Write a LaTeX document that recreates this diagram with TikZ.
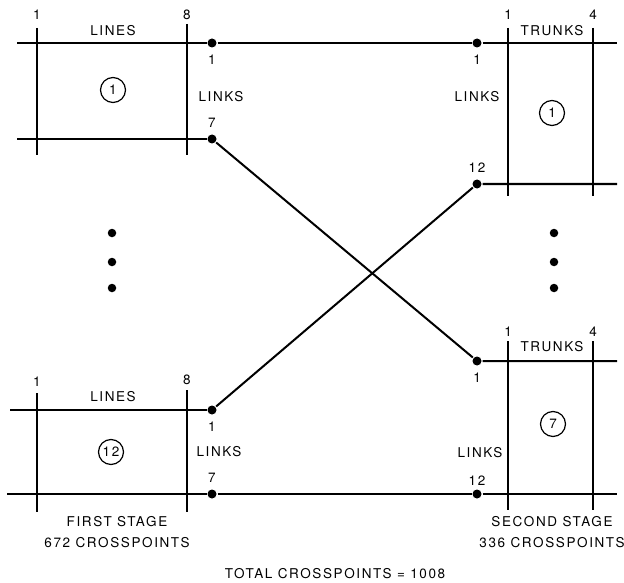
\documentclass[tikz,border=0pt]{standalone}
\usepackage{fontspec}
\setmainfont{TeX Gyre Heros}[LetterSpace=12]

\begin{document}
\begin{tikzpicture}[x=1pt,y=-1pt,line width=2pt,
  every node/.style={font=\fontsize{13.5}{21}\selectfont},
  junction/.style={circle,fill,inner sep=0pt,minimum size=9pt},
  swno/.style={circle,draw,line width=1.2pt,inner sep=0pt,minimum size=25pt},
  vdot/.style={circle,fill,inner sep=0pt,minimum size=8.5pt}]
  \useasboundingbox (0,0) rectangle (624,583);
  % link terminals
  \node[junction] (a1) at (212,43) {};
  \node[junction] (a7) at (212,139) {};
  \node[junction] (b1) at (477,43) {};
  \node[junction] (b12) at (477,184) {};
  \node[junction] (c1) at (212,410) {};
  \node[junction] (c7) at (212,494) {};
  \node[junction] (d1) at (477,361) {};
  \node[junction] (d12) at (477,494) {};
  \coordinate (a1in) at (17,43);
  \coordinate (a7in) at (17,139);
  \coordinate (c1in) at (10,410);
  \coordinate (c7in) at (7,494);
  \coordinate (b1out) at (617,43);
  \coordinate (b12out) at (617,184);
  \coordinate (d1out) at (617,361);
  \coordinate (d12out) at (617,494);
  % horizontals and links
  \draw (a1in) -- (a1) -- (b1) -- (b1out);
  \draw (a7in) -- (a7);
  \draw (a7) -- (d1) -- (d1out);
  \draw (c1in) -- (c1);
  \draw (c1) -- (b12) -- (b12out);
  \draw (c7in) -- (c7) -- (d12) -- (d12out);
  % verticals
  \draw (37,28) -- (37,155);
  \draw (187,24) -- (187,155);
  \draw (508,28) -- (508,196);
  \draw (593,28) -- (593,196);
  \draw (37,393) -- (37,512);
  \draw (187,390) -- (187,512);
  \draw (508,341) -- (508,510);
  \draw (593,341) -- (593,510);
  % first stage, switch 1
  \node (tl1) at (37,15) {1};
  \node (tl8) at (187,15) {8};
  \node (tlines) at (113,31) {LINES};
  \node[swno] (sw1) at (113,90) {1};
  \node (tlinks) at (221,97) {LINKS};
  \node (ta1) at (212,60) {1};
  \node (ta7) at (212,123) {7};
  % second stage, switch 1
  \node (tr1) at (508,15) {1};
  \node (tr4) at (593,15) {4};
  \node (ttrunks) at (552,31) {TRUNKS};
  \node[swno] (sw2) at (552,113) {1};
  \node (trlinks) at (477,97) {LINKS};
  \node (tb1) at (477,60) {1};
  \node (tb12) at (477,168) {12};
  % first stage, switch 12
  \node (bl1) at (37,382) {1};
  \node (bl8) at (187,380) {8};
  \node (blines) at (113,397) {LINES};
  \node[swno] (sw12) at (111,452) {12};
  \node (blinks) at (219,452) {LINKS};
  \node (bc1) at (212,427) {1};
  \node (bc7) at (212,478) {7};
  \node[align=center] (first) at (117,532) {FIRST STAGE\\672 CROSSPOINTS};
  % second stage, switch 7
  \node (br1) at (508,332) {1};
  \node (br4) at (593,332) {4};
  \node (btrunks) at (552,347) {TRUNKS};
  \node[swno] (sw7) at (553,424) {7};
  \node (brlinks) at (480,453) {LINKS};
  \node (bd1) at (477,378) {1};
  \node (bd12) at (477,481) {12};
  \node[align=center] (second) at (552,532) {SECOND STAGE\\336 CROSSPOINTS};
  \node (total) at (335,574) {TOTAL CROSSPOINTS = 1008};
  % omitted switches
  \foreach \y [count=\i] in {233,262,288} {
    \node[vdot] (ld\i) at (112,\y) {};
    \node[vdot] (rd\i) at (554,\y) {};
  }
\end{tikzpicture}
\end{document}
